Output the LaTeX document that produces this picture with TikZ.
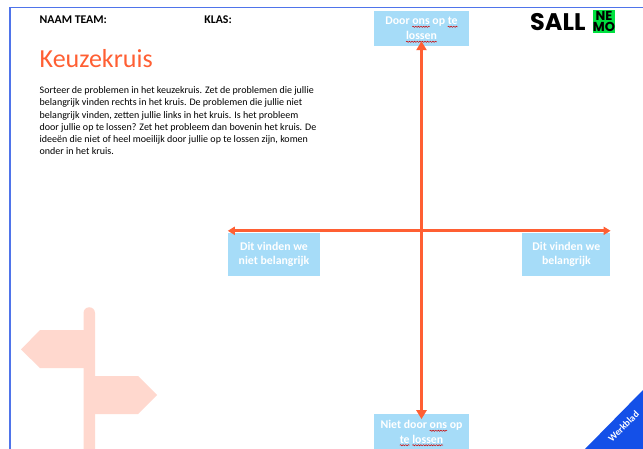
\documentclass[tikz,border=0pt]{standalone}
\usepackage{fontspec}
\setmainfont{Carlito}
\newfontfamily\logofont{Poppins}
\usetikzlibrary{arrows.meta, decorations.pathmorphing, positioning}
\definecolor{kruisorange}{HTML}{FF5F33}
\definecolor{vakblue}{HTML}{A6DCF8}
\definecolor{paginablue}{HTML}{4F74EA}
\definecolor{tabblue}{HTML}{1450E8}
\definecolor{bordpink}{HTML}{FFD8CE}
\definecolor{logogreen}{HTML}{00E040}
\newcommand{\vakwidth}{95pt}
\newlength{\spellwidth}
\newcommand{\spell}[1]{\settowidth{\spellwidth}{#1}\tikz[overlay]{\draw[red!80!black,line width=0.5pt,decorate,decoration={snake,amplitude=0.6pt,segment length=2.6pt}] (0pt,-2pt) -- (\spellwidth,-2pt);}#1}
\tikzstyle{vak} = [% blue box at the end of an axis
  rectangle,
  minimum width=\vakwidth,
  minimum height=35pt,
  inner sep=0pt,
  align=center,
  text=white,
  fill=vakblue,
  font=\fontsize{11.8}{14.5}\selectfont\bfseries
  ]
\tikzstyle{kop} = [% team and class headings
  anchor=west,
  inner sep=0pt,
  font=\fontsize{11.8}{14}\selectfont\bfseries
  ]
\tikzstyle{arrow} = [% arrow format
  line width=3pt,
  draw=kruisorange,
  {Stealth[length=9pt,width=10pt,inset=0pt]}-{Stealth[length=9pt,width=10pt,inset=0pt]}
  ]

\begin{document}
\begin{tikzpicture}[x=1pt,y=-1pt]
\useasboundingbox (0,0) rectangle (643,449);

%%% Page
\fill[white] (0,0) rectangle (643,449);
\fill[paginablue] (9,7) rectangle (643,8.5);
\fill[paginablue] (9,7) rectangle (10.5,449);
\fill[tabblue] (643,390) -- (643,449) -- (585,449) -- cycle;
\fill[bordpink] (83.5,449) -- (83.5,313) arc[start angle=180,end angle=360,radius=5.75] -- (95,449) -- cycle;
\fill[bordpink] (84,330) -- (40,330) -- (21,349.5) -- (40,368) -- (84,368) -- cycle;
\fill[bordpink] (95,376) -- (138,376) -- (157,395) -- (138,414) -- (95,414) -- cycle;

%%% Nodes
\node[kop] (naam) at (39.5,20) {NAAM TEAM:};
\node[kop] (klas) [right=97pt of naam] {KLAS:};
\node[inner sep=0pt,anchor=west,text=kruisorange,font=\fontsize{26}{30}\selectfont] (titel) at (39.5,59) {Keuzekruis};
\node[inner sep=0pt,anchor=north west,align=left,font=\fontsize{10}{12.2}\selectfont] (uitleg) at (39.5,86.5) {Sorteer de problemen in het keuzekruis. Zet de problemen die jullie\\
belangrijk vinden rechts in het kruis. De problemen die jullie niet\\
belangrijk vinden, zetten jullie links in het kruis. Is het probleem\\
door jullie op te lossen? Zet het probleem dan bovenin het kruis. De\\
ideeën die niet of heel moeilijk door jullie op te lossen zijn, komen\\
onder in het kruis.};

\node[vak] (doorons) at (421.5,28.5) {Door \spell{ons} op \spell{te}\\[0.5pt]\spell{lossen}};
\node[vak] (nietdoor) [below=368pt of doorons] {Niet door \spell{ons} op\\\spell{te} \spell{lossen}};
\node[vak,minimum width=92pt,minimum height=43pt] (nietbelangrijk) at (274,254.5) {Dit vinden we\\niet belangrijk};
\node[vak,minimum width=88pt,minimum height=43pt] (belangrijk) [right=202pt of nietbelangrijk] {Dit vinden we\\belangrijk};

\node[inner sep=0pt,rotate=45,text=white,font=\fontsize{9.7}{11}\selectfont\bfseries] (werkblad) at (623.5,426.5) {Werkblad};

\node[inner sep=0pt,anchor=west,font=\logofont\fontsize{24}{26}\selectfont\bfseries] (sall) at (530,22) {SALL};
\node[fill=logogreen,minimum width=22pt,minimum height=23pt,inner sep=0pt,align=center,font=\logofont\fontsize{13}{11.5}\selectfont\bfseries] (nemo) at (604,21.5) {NE\\MO};

%%% Arrows
\draw[arrow,shorten >=-5pt,shorten <=-5pt] (doorons.south) -- (nietdoor.north);
\draw[arrow,{Stealth[length=7pt,width=8pt,inset=0pt]}-{Stealth[length=7pt,width=8pt,inset=0pt]}] ([yshift=2pt]nietbelangrijk.north west) -- ([yshift=2pt]belangrijk.north east);

\end{tikzpicture}
\end{document}
